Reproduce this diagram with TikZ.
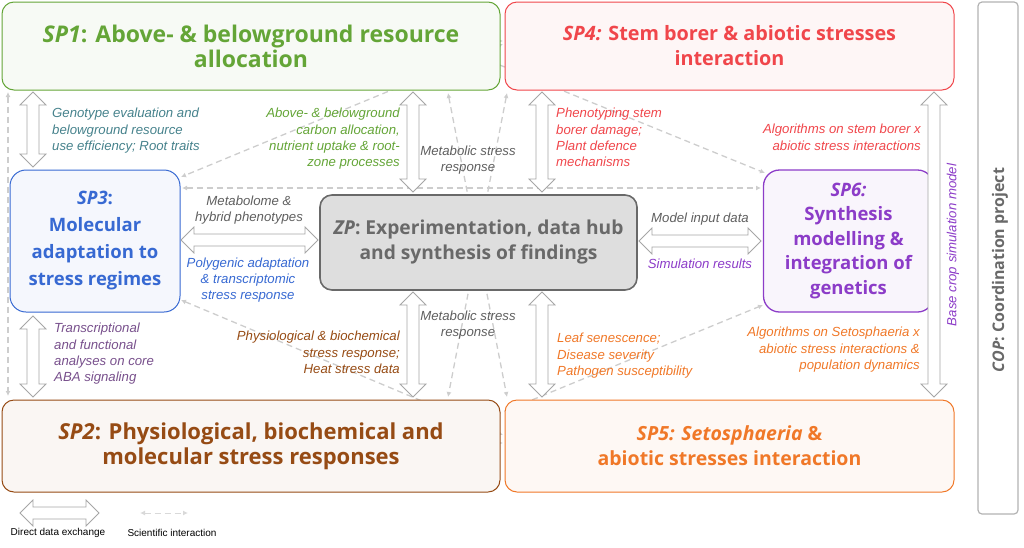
\documentclass[tikz,border=0pt]{standalone}
\usepackage{fontspec}
\setmainfont{Liberation Sans}
\newfontfamily\tf{Open Sans}
\usetikzlibrary{arrows.meta}
\definecolor{cgreen}{RGB}{100,165,55}
\definecolor{cred}{RGB}{240,70,75}
\definecolor{cblue}{RGB}{55,105,210}
\definecolor{cgray}{RGB}{105,105,105}
\definecolor{cpurple}{RGB}{140,60,200}
\definecolor{cbrown}{RGB}{150,75,20}
\definecolor{corange}{RGB}{240,120,40}
\definecolor{ctext}{RGB}{95,95,95}
\definecolor{cteal}{RGB}{70,130,140}
\definecolor{cviolet}{RGB}{120,80,140}
\definecolor{cdash}{RGB}{205,205,205}
\newcommand{\vda}[3]{\draw[draw=black!35,fill=white,line width=0.8pt] (#1,#2) -- (#1+13,#2+13) -- (#1+6,#2+13) -- (#1+6,#3-13) -- (#1+13,#3-13) -- (#1,#3) -- (#1-13,#3-13) -- (#1-6,#3-13) -- (#1-6,#2+13) -- (#1-13,#2+13) -- cycle;}
\newcommand{\hda}[3]{\draw[draw=black!35,fill=white,line width=0.8pt] (#2,#1) -- (#2+13,#1-13) -- (#2+13,#1-6) -- (#3-13,#1-6) -- (#3-13,#1-13) -- (#3,#1) -- (#3-13,#1+13) -- (#3-13,#1+6) -- (#2+13,#1+6) -- (#2+13,#1+13) -- cycle;}
\begin{document}
\begin{tikzpicture}[x=1pt,y=-1pt,
 box/.style={draw=#1,line width=1pt,rounded corners=12pt,fill=#1!5},
 ttl/.style={font=\tf\bfseries,align=center,inner sep=0pt},
 lab/.style={font=\itshape\fontsize{13.2}{16.3}\selectfont,inner sep=0pt},
 sci/.style={draw=cdash,dashed,dash pattern=on 6pt off 4pt,line width=1.3pt,{Latex[length=5pt,width=5pt]}-{Latex[length=5pt,width=5pt]}}]
\useasboundingbox (0,0) rectangle (1024,547);
% dashed interactions
\draw[sci] (8,92) -- (8,396);
\draw[sci] (182,188) -- (761,188);
\draw[sci] (456,41) -- (503,41);
\draw[sci] (458,48) -- (765,173);
\draw[sci] (503,44) -- (181,177);
\draw[sci] (448,93) -- (507,397);
\draw[sci] (507,93) -- (448,397);
\draw[sci] (454,443) -- (503,443);
\draw[sci] (181,300) -- (503,435);
\draw[sci] (454,432) -- (763,305);
% boxes
\node[box=cgreen,minimum width=498pt,minimum height=88pt] (sp1) at (251,46) {};
\node[ttl,text=cgreen,font=\tf\bfseries\fontsize{23}{25}\selectfont] at (sp1) {\textit{SP1}: Above- \& belowground resource\\allocation};
\node[box=cred,minimum width=449pt,minimum height=88pt] (sp4) at (729.5,46) {};
\node[ttl,text=cred,font=\tf\bfseries\fontsize{19.8}{25}\selectfont] at (sp4) {\textit{SP4:} Stem borer \& abiotic stresses\\interaction};
\node[box=cblue,minimum width=170pt,minimum height=142pt,rounded corners=16pt] (sp3) at (95,241) {};
\node[ttl,text=cblue,font=\tf\bfseries\fontsize{18.5}{27}\selectfont] at (sp3) {\textit{SP3}:\\Molecular\\adaptation to\\stress regimes};
\node[box=cgray,minimum width=317pt,minimum height=95pt,fill=black!13,line width=1.6pt] (zp) at (478.5,242.5) {};
\node[ttl,text=cgray,font=\tf\bfseries\fontsize{19.2}{25}\selectfont] at (zp) {\textit{ZP}: Experimentation, data hub\\and synthesis of findings};
\node[box=cpurple,minimum width=170pt,minimum height=142pt,rounded corners=16pt,line width=1.3pt] (sp6) at (848.5,241) {};
\node[ttl,text=cpurple,font=\tf\bfseries\fontsize{18.5}{24.5}\selectfont] at (sp6) {\textit{SP6:}\\Synthesis\\modelling \&\\integration of\\genetics};
\node[box=cbrown,minimum width=498pt,minimum height=92pt] (sp2) at (251,446) {};
\node[ttl,text=cbrown,font=\tf\bfseries\fontsize{22}{25}\selectfont] at (sp2) {\textit{SP2}: Physiological, biochemical and\\molecular stress responses};
\node[box=corange,minimum width=449pt,minimum height=92pt] (sp5) at (729.5,446) {};
\node[ttl,text=corange,font=\tf\bfseries\fontsize{19.5}{25}\selectfont] at (sp5) {\textit{SP5: Setosphaeria} \&\\abiotic stresses interaction};
\node[draw=black!30,line width=1.2pt,rounded corners=4pt,minimum width=40pt,minimum height=512pt] (cop) at (998,258) {};
\node[rotate=90,text=cgray,font=\tf\bfseries\fontsize{16}{18}\selectfont] at (1000,270) {\textit{COP}: Coordination project};
% direct data exchange arrows
\vda{33}{92}{167}
\vda{33}{316}{397}
\vda{413}{92}{192}
\vda{413}{292}{397}
\vda{542}{92}{192}
\vda{542}{292}{397}
\vda{934}{92}{397}
\hda{240}{181}{318}
\hda{241}{639}{761}
% labels
\node[lab,text=cteal,align=left,anchor=north west] at (52,108) {Genotype evaluation and\\belowground resource\\use efficiency; Root traits};
\node[lab,text=cgreen,align=right,anchor=north east] at (400,108) {Above- \& belowground\\carbon allocation,\\nutrient uptake \& root-\\zone processes};
\node[lab,text=ctext,align=center] at (468,160) {Metabolic stress\\response};
\node[lab,text=cred,align=left,anchor=north west] at (556,108) {Phenotyping stem\\borer damage;\\Plant defence\\mechanisms};
\node[lab,text=cred,align=right,anchor=north east] at (921,124) {Algorithms on stem borer x\\abiotic stress interactions};
\node[lab,text=ctext,align=center] at (249,210) {Metabolome \&\\hybrid phenotypes};
\node[lab,text=cblue,align=center] at (248,280) {Polygenic adaptation\\\& transcriptomic\\stress response};
\node[lab,text=ctext] at (700,219) {Model input data};
\node[lab,text=cpurple] at (700,264) {Simulation results};
\node[lab,text=cviolet,align=left,anchor=north west] at (54,323) {Transcriptional\\and functional\\analyses on core\\ABA signaling};
\node[lab,text=cbrown,align=right,anchor=north east] at (400,331) {Physiological \& biochemical\\stress response;\\Heat stress data};
\node[lab,text=ctext,align=center] at (468,325) {Metabolic stress\\response};
\node[lab,text=corange,align=left,anchor=north west] at (557,333) {Leaf senescence;\\Disease severity\\Pathogen susceptibility};
\node[lab,text=corange,align=right,anchor=north east] at (920,327) {Algorithms on Setosphaeria x\\abiotic stress interactions \&\\population dynamics};
\node[lab,text=cpurple,rotate=90] at (953,245) {Base crop simulation model};
% legend
\hda{513}{20}{99}
\node[font=\fontsize{10}{12}\selectfont,inner sep=0pt] at (58,533) {Direct data exchange};
\draw[sci,line width=1pt,draw=black!15] (140,513) -- (188,513);
\node[font=\fontsize{10}{12}\selectfont,inner sep=0pt] at (172,533) {Scientific interaction};
\end{tikzpicture}
\end{document}
